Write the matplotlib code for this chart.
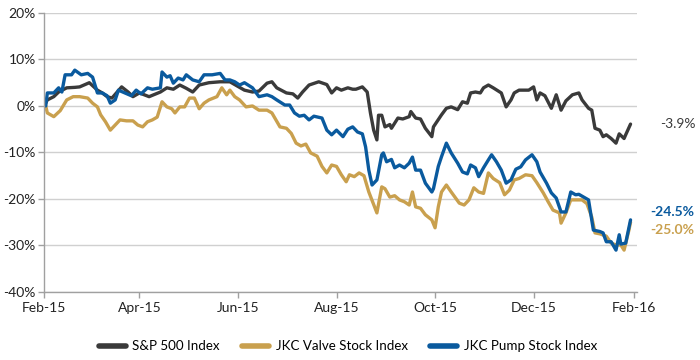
import numpy as np
import matplotlib
matplotlib.use("Agg")
import matplotlib.pyplot as plt
import matplotlib.dates as mdates

plt.rcParams['font.family'] = ['Lato', 'DejaVu Sans']

start_date = np.datetime64('2015-02-01')

series_names = ["S&P 500 Index", "JKC Valve Stock Index", "JKC Pump Stock Index"]
series_colors = ["#3a3a3a", "#c9a04e", "#0a5a9e"]

# days since 2015-02-01, percent change
sp_days = [0, 2, 6, 9, 14, 19, 22, 28, 33, 36, 39, 42, 48, 52, 55, 59, 65, 72, 76, 80,
           84, 88, 92, 96, 102, 109, 115, 119, 124, 129, 133, 138, 141, 144, 150, 154, 157, 160, 164, 170,
           175, 178, 181, 184, 188, 191, 193, 197, 200, 202, 204, 206, 207, 209, 211, 214, 215, 219, 222, 226,
           227, 230, 233, 236, 240, 241, 246, 249, 252, 256, 259, 262, 264, 267, 270, 272, 275, 278, 283, 286,
           289, 291, 294, 300, 303, 305, 307, 310, 314, 317, 320, 323, 327, 331, 333, 337, 339, 341, 344, 346,
           348, 351, 354, 356, 359, 360, 363]
sp_vals = [0, 1.3, 2.0, 3.0, 3.9, 4.0, 4.1, 5.0, 3.4, 2.8, 2.0, 1.7, 4.1, 3.0, 2.0, 2.8, 2.0, 3.0, 3.9, 3.6,
           4.5, 3.8, 3.0, 4.5, 5.0, 5.2, 5.2, 4.4, 3.4, 3.0, 3.2, 4.9, 5.2, 3.9, 2.8, 2.6, 1.7, 3.0, 4.5, 5.2,
           4.6, 2.8, 3.9, 3.4, 3.9, 3.6, 3.6, 4.1, 3.0, -1.5, -5.2, -7.3, -2.0, -2.0, -4.5, -4.0, -4.8, -2.6, -2.8, -2.3,
           -1.2, -2.6, -2.8, -4.8, -6.6, -4.5, -1.9, -0.5, -0.2, -0.8, 0.9, 0.6, 2.8, 3.0, 2.8, 3.9, 4.5, 3.9, 2.8, -0.2,
           1.3, 2.8, 3.4, 3.4, 4.1, 1.3, 2.8, 2.2, -0.5, 2.4, -0.9, 1.1, 2.4, 2.8, 1.3, -0.5, -0.9, -4.8, -5.2, -6.6,
           -6.2, -7.0, -8.0, -6.0, -7.0, -6.2, -3.9]

valve_days = [1, 2, 6, 10, 14, 18, 22, 27, 30, 33, 35, 38, 41, 44, 47, 51, 55, 58, 61, 64,
              67, 70, 73, 76, 79, 81, 84, 87, 90, 93, 96, 99, 102, 107, 110, 113, 115, 118, 121, 125,
              129, 133, 138, 141, 146, 150, 153, 156, 159, 162, 165, 169, 172, 175, 178, 181, 184, 187, 189, 192,
              195, 198, 201, 206, 209, 211, 214, 217, 220, 223, 226, 228, 230, 233, 236, 240, 242, 244, 246, 249,
              252, 257, 260, 263, 266, 269, 272, 275, 278, 282, 285, 288, 291, 294, 298, 302, 305, 309, 312, 315,
              319, 320, 323, 326, 329, 333, 336, 339, 341, 344, 348, 351, 354, 357, 359, 362, 363]
valve_vals = [0, -1.5, -2.3, -1.0, 1.3, 2.0, 2.0, 1.7, 0.6, -0.2, -1.9, -3.4, -5.2, -4.1, -3.0, -3.2, -3.2, -4.1, -4.5, -3.4,
              -3.0, -2.4, 0.9, -0.2, -0.6, -1.5, -0.2, -0.2, 1.7, 1.7, -0.6, 0.6, 1.3, 2.0, 3.9, 2.4, 3.4, 2.0, 1.3, -0.2,
              0.0, -0.9, -0.9, -1.5, -4.5, -4.8, -5.9, -8.0, -8.6, -8.2, -10.1, -10.8, -13.0, -14.4, -12.7, -13.0, -14.8, -16.3, -14.8, -15.2,
              -14.4, -15.0, -18.5, -23.0, -17.4, -17.8, -19.6, -19.3, -20.2, -20.6, -21.3, -18.5, -21.7, -22.0, -23.4, -24.5, -26.2, -21.7, -18.5, -17.0,
              -18.5, -20.9, -21.3, -20.2, -17.6, -18.5, -18.8, -14.4, -15.6, -16.5, -19.1, -18.1, -15.9, -15.6, -14.8, -15.0, -16.5, -18.7, -20.6, -22.4,
              -23.0, -25.2, -23.0, -20.2, -20.2, -20.2, -21.0, -23.9, -27.3, -27.5, -28.0, -29.5, -29.9, -29.9, -31.0, -26.7, -25.0]

pump_days = [1, 2, 6, 9, 11, 13, 17, 19, 23, 27, 30, 33, 36, 39, 41, 44, 46, 50, 54, 57,
             60, 64, 67, 72, 73, 76, 78, 80, 83, 86, 88, 92, 96, 99, 104, 109, 112, 115, 118, 121,
             124, 129, 133, 138, 141, 144, 149, 152, 155, 158, 161, 164, 167, 172, 175, 178, 181, 185, 188, 191,
             194, 197, 199, 201, 203, 206, 209, 210, 212, 215, 217, 220, 223, 226, 228, 230, 233, 236, 240, 241,
             244, 246, 249, 252, 256, 259, 262, 264, 267, 269, 272, 275, 277, 280, 283, 286, 289, 292, 295, 298,
             302, 305, 307, 311, 314, 317, 320, 323, 326, 329, 331, 334, 337, 340, 344, 346, 348, 351, 354, 356,
             357, 360, 363]
pump_vals = [0, 2.8, 2.8, 3.9, 3.0, 6.7, 6.7, 7.7, 6.7, 7.0, 6.2, 2.8, 2.8, 2.2, 0.6, 1.3, 3.4, 2.8, 2.2, 3.4,
             2.6, 3.9, 3.6, 3.9, 7.3, 6.2, 6.5, 4.9, 6.0, 5.6, 6.7, 5.6, 5.2, 6.7, 6.7, 7.0, 5.6, 5.6, 5.2, 4.5,
             5.0, 3.9, 2.0, 2.4, 2.0, 1.3, 0.2, 0.2, -1.5, -2.2, -2.0, -3.0, -2.2, -2.6, -5.2, -6.2, -5.2, -6.6, -5.0, -4.5,
             -5.6, -6.0, -8.8, -13.8, -17.0, -15.9, -10.5, -10.1, -12.0, -11.5, -13.3, -12.7, -13.3, -12.3, -11.0, -13.8, -13.8, -16.6, -18.5, -17.8,
             -13.0, -10.9, -8.0, -10.1, -12.3, -14.2, -14.6, -12.7, -13.3, -15.2, -13.3, -11.6, -10.5, -12.0, -13.8, -16.6, -15.9, -13.6, -13.1, -11.6,
             -10.5, -12.0, -14.2, -16.6, -18.7, -19.8, -22.8, -22.8, -18.5, -19.1, -19.0, -19.6, -20.2, -26.7, -27.0, -27.3, -29.2, -29.2, -31.0, -27.7,
             -29.7, -29.5, -24.5]

end_labels = ["-3.9%", "-25.0%", "-24.5%"]
y_ticks = [20, 10, 0, -10, -20, -30, -40]
x_tick_dates = ['2015-02-01', '2015-04-01', '2015-06-01', '2015-08-01', '2015-10-01', '2015-12-01', '2016-02-01']


def to_dates(days):
    return start_date + np.array(days).astype('timedelta64[D]')


fig = plt.figure(figsize=(7, 3.6), dpi=100)
ax = fig.add_axes([0.063, 0.189, 0.847, 0.775])

all_days = [sp_days, valve_days, pump_days]
all_vals = [sp_vals, valve_vals, pump_vals]
for name, color, d, v in zip(series_names, series_colors, all_days, all_vals):
    ax.plot(to_dates(d), v, color=color, lw=2.4, label=name,
            solid_joinstyle='round', solid_capstyle='round')

ax.set_ylim(-40, 20)
ax.set_yticks(y_ticks)
ax.set_yticklabels([f"{t}%" for t in y_ticks])
ax.set_xlim(np.datetime64('2015-02-01'), np.datetime64('2016-02-03'))
ax.set_xticks([np.datetime64(d) for d in x_tick_dates])
ax.xaxis.set_major_formatter(mdates.DateFormatter('%b-%y'))

ax.yaxis.grid(True, color='#d0d0d0', lw=1.0)
ax.set_axisbelow(True)
for s in ['top', 'right']:
    ax.spines[s].set_visible(False)
for s in ['left', 'bottom']:
    ax.spines[s].set_color('#a0a0a0')
    ax.spines[s].set_linewidth(1.0)
ax.tick_params(axis='both', colors='#a0a0a0', labelcolor='#222222', labelsize=10, length=4, width=1.0)
ax.tick_params(axis='y', pad=2)
ax.tick_params(axis='x', pad=3)

# end labels
end_y_positions = [sp_vals[-1], valve_vals[-1] - 1.6, pump_vals[-1] + 1.6]
end_offsets = [16.5, 9.5, 9.5]
for lbl, color, yv, off in zip(end_labels, series_colors, end_y_positions, end_offsets):
    ax.annotate(lbl, xy=(1.0, yv), xycoords=('axes fraction', 'data'),
                xytext=(off, 0), textcoords='offset points', ha='left', va='center',
                color=color, fontsize=10, fontweight='bold' if color != series_colors[0] else 'normal')

leg = fig.legend(loc='center', bbox_to_anchor=(0.497, 0.038), ncol=3, frameon=False,
                 fontsize=9.6, handlelength=2.0, columnspacing=1.7, handletextpad=0.5)
for h in leg.get_lines():
    h.set_linewidth(4)

fig.savefig('out.png', dpi=100)
